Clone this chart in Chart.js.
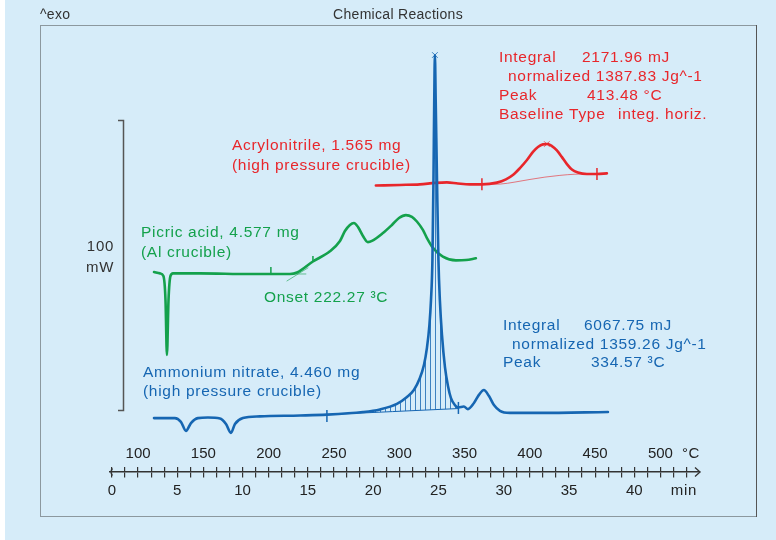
<!DOCTYPE html>
<html>
<head>
<meta charset="utf-8">
<script src="https://cdn.jsdelivr.net/npm/chart.js@4/dist/chart.umd.min.js"></script>
<style>
  html, body { margin: 0; padding: 0; background: #d6ecf9; }
  canvas { display: block; }
</style>
</head>
<body>
<canvas id="dscChart" width="776" height="540"></canvas>
<script>
// axis labels (time in min, furnace temperature in °C, 10 K/min from 80 °C)
var minLabels = [0, 5, 10, 15, 20, 25, 30, 35, 40];
var tempLabels = [100, 150, 200, 250, 300, 350, 400, 450, 500];

// Ammonium nitrate, 4.460 mg (time in min, heat flow in mW, curves offset)
var blueTime = [3.22, 4.82, 5.28, 5.67, 6.05, 6.58, 7.35, 8.27, 8.73, 9.11, 9.42, 10.03, 11.33, 14.40, 16.46, 19.22, 20.52, 21.82, 22.59, 23.12, 23.58, 23.89, 24.12, 24.31, 24.43, 24.54, 24.62, 24.68, 24.73, 24.79, 24.89, 25.00, 25.11, 25.27, 25.50, 25.73, 25.96, 26.26, 26.53, 26.95, 27.26, 27.72, 28.10, 28.48, 28.87, 29.25, 29.71, 30.47, 32.77, 37.98];
var blueHeat = [34.1, 34.1, 32.8, 29.7, 32.4, 34.1, 34.3, 34.0, 32.1, 29.0, 32.1, 34.1, 34.7, 35.0, 35.3, 36.2, 37.1, 39.0, 41.4, 43.8, 47.9, 52.4, 58.3, 66.2, 74.8, 88.6, 116.2, 143.8, 159.3, 143.8, 116.2, 88.6, 74.8, 62.8, 51.7, 45.2, 41.0, 38.6, 37.8, 38.1, 37.2, 39.3, 42.1, 43.8, 41.7, 38.6, 36.6, 35.9, 35.9, 36.2];
var blueBaseTime = [16.46, 26.53];
var blueBaseHeat = [35.3, 37.4];

// Picric acid, 4.577 mg
var greenTime = [3.22, 3.68, 3.94, 4.10, 4.21, 4.33, 4.48, 4.67, 6.74, 10.57, 13.63, 14.17, 15.39, 16.69, 17.46, 17.84, 18.22, 18.53, 18.84, 19.22, 19.60, 19.91, 20.75, 21.44, 21.98, 22.51, 22.97, 23.35, 23.81, 24.12, 24.58, 25.34, 26.34, 27.11, 27.87];
var greenHeat = [84.5, 84.0, 83.1, 74.8, 55.9, 74.8, 83.1, 84.0, 84.0, 83.8, 83.8, 84.3, 88.1, 91.6, 95.2, 98.6, 100.7, 101.4, 100.0, 96.9, 94.8, 95.2, 97.9, 100.7, 103.1, 104.1, 103.5, 101.9, 99.0, 96.2, 92.8, 89.8, 88.5, 88.6, 89.2];
var greenTanTime = [13.40, 15.01];
var greenTanHeat = [81.4, 85.9];
var greenFlatTime = [13.63, 14.85];
var greenFlatHeat = [83.8, 83.8];

// Acrylonitrile, 1.565 mg
var redTime = [20.21, 22.05, 23.58, 24.73, 25.65, 26.49, 27.41, 28.33, 29.48, 30.17, 30.70, 31.24, 31.78, 32.24, 32.62, 33.00, 33.35, 33.69, 34.07, 34.46, 34.84, 35.22, 35.68, 36.37, 37.14, 37.90];
var redHeat = [114.3, 114.5, 114.7, 115.2, 115.4, 115.0, 114.7, 114.7, 115.3, 116.4, 117.9, 120.3, 123.1, 125.9, 127.6, 128.5, 128.6, 127.9, 126.4, 124.1, 121.7, 119.8, 118.8, 118.3, 118.3, 118.5];
var redBaseTime = [28.33, 29.71, 30.86, 32.01, 33.15, 34.30, 35.45, 36.37];
var redBaseHeat = [114.7, 114.8, 115.5, 116.4, 117.2, 117.8, 118.2, 118.3];

// evaluation marks
var blueLimitTime = [16.46, 26.53];
var blueLimitHeat = [34.8, 37.6];
var greenMarkTime = [12.17, 15.39];
var greenMarkHeat = [85.2, 89.0];
var redLimitTime = [28.33, 37.14];
var redLimitHeat = [114.7, 118.3];
var peakTime = [24.73, 33.30];
var peakHeat = [159.3, 128.6];

// 100 mW scale bar
var scaleBarBase = 36.9;
var scaleBarSize = 100;

var BLUE = "#1666b2";
var GREEN = "#14a14c";
var RED = "#e8262b";
var FONT = '"Liberation Sans", Arial, sans-serif';

function pts(xs, ys) {
  return xs.map(function (x, i) {
    return { x: x, y: ys[i] };
  });
}

var canvas = document.getElementById("dscChart");
var ctx = canvas.getContext("2d");

// vertical hatching for the integrated area
var hatch = document.createElement("canvas");
hatch.width = 5;
hatch.height = 4;
var hctx = hatch.getContext("2d");
hctx.fillStyle = "rgba(22, 102, 178, 0.8)";
hctx.fillRect(0, 0, 1, 4);
var hatchPattern = ctx.createPattern(hatch, "repeat");

var blueArea = pts(blueTime, blueHeat).filter(function (p) {
  return p.x >= blueBaseTime[0] && p.x <= blueBaseTime[1];
});

function text(c, s, x, y, color, size, align, spacing) {
  c.save();
  c.font = size + "px " + FONT;
  c.letterSpacing = (spacing === undefined ? 0.7 : spacing) + "px";
  c.fillStyle = color;
  c.textAlign = align || "left";
  c.textBaseline = "middle";
  c.fillText(s, x, y);
  c.restore();
}

var decorations = {
  id: "decorations",
  beforeDraw: function (chart) {
    var c = chart.ctx;
    c.save();
    c.fillStyle = "#d6ecf9";
    c.fillRect(0, 0, chart.width, chart.height);
    c.fillStyle = "#ffffff";
    c.fillRect(0, 0, 5, chart.height);
    c.strokeStyle = "#8c989f";
    c.lineWidth = 1;
    c.strokeRect(40.5, 25.5, 716, 491);
    c.strokeStyle = "#555";
    c.beginPath();
    c.moveTo(756.5, 25);
    c.lineTo(756.5, 517);
    c.stroke();
    c.restore();
  },
  afterDraw: function (chart) {
    var c = chart.ctx;
    var x = chart.scales.x;
    var y = chart.scales.y;
    var ay = y.getPixelForValue(15.52);

    // axis ends: hook on the left, arrow on the right
    c.save();
    c.strokeStyle = "#333";
    c.lineWidth = 1.3;
    c.beginPath();
    c.arc(x.left + 6, ay, 5, Math.PI * 0.75, Math.PI * 1.25);
    c.stroke();
    c.beginPath();
    c.moveTo(x.right - 5, ay - 4.5);
    c.lineTo(x.right, ay);
    c.lineTo(x.right - 5, ay + 4.5);
    c.stroke();

    // 100 mW scale bar
    var yTop = Math.round(y.getPixelForValue(scaleBarBase + scaleBarSize)) + 0.5;
    var yBot = Math.round(y.getPixelForValue(scaleBarBase)) + 0.5;
    c.strokeStyle = "#555";
    c.lineWidth = 1.5;
    c.beginPath();
    c.moveTo(118, yTop);
    c.lineTo(123.5, yTop);
    c.lineTo(123.5, yBot);
    c.lineTo(118, yBot);
    c.stroke();
    c.restore();

    text(c, "100", 114, 247, "#333", 15, "right");
    text(c, "mW", 114, 268, "#333", 15, "right");
    text(c, "min", 684, 491, "#222", 15, "center");
    text(c, "°C", 691, 454, "#222", 15, "center");

    text(c, "^exo", 40, 15, "#333", 14, "left", 0.3);
    text(c, "Chemical Reactions", 398, 15, "#333", 14, "center", 0.3);

    text(c, "Integral", 499, 58, RED, 15.5);
    text(c, "2171.96 mJ", 582, 58, RED, 15.5);
    text(c, "normalized 1387.83 Jg^-1", 508, 77, RED, 15.5);
    text(c, "Peak", 499, 96, RED, 15.5);
    text(c, "413.48 °C", 587, 96, RED, 15.5);
    text(c, "Baseline Type", 499, 115, RED, 15.5);
    text(c, "integ. horiz.", 618, 115, RED, 15.5);
    text(c, "Acrylonitrile, 1.565 mg", 232, 146, RED, 15.5);
    text(c, "(high pressure crucible)", 232, 166, RED, 15.5);

    text(c, "Picric acid, 4.577 mg", 141, 233, GREEN, 15.5);
    text(c, "(Al crucible)", 141, 253, GREEN, 15.5);
    text(c, "Onset 222.27 ³C", 264, 298, GREEN, 15.5);

    text(c, "Ammonium nitrate, 4.460 mg", 143, 373, BLUE, 15.5);
    text(c, "(high pressure crucible)", 143, 392, BLUE, 15.5);
    text(c, "Integral", 503, 326, BLUE, 15.5);
    text(c, "6067.75 mJ", 584, 326, BLUE, 15.5);
    text(c, "normalized 1359.26 Jg^-1", 512, 345, BLUE, 15.5);
    text(c, "Peak", 503, 363, BLUE, 15.5);
    text(c, "334.57 ³C", 591, 363, BLUE, 15.5);
  }
};

var tickFont = { family: FONT, size: 15 };

var dscChart = new Chart(ctx, {
  type: "line",
  data: {
    datasets: [
      {
        label: "Ammonium nitrate",
        data: pts(blueTime, blueHeat),
        borderColor: BLUE,
        borderWidth: 2.6,
      },
      {
        label: "Integral area",
        data: blueArea,
        borderWidth: 0,
        borderColor: "rgba(0,0,0,0)",
        fill: { target: 2, above: hatchPattern, below: hatchPattern },
      },
      {
        label: "Baseline",
        data: pts(blueBaseTime, blueBaseHeat),
        borderColor: BLUE,
        borderWidth: 1,
      },
      {
        label: "Picric acid",
        data: pts(greenTime, greenHeat),
        borderColor: GREEN,
        borderWidth: 2.6,
      },
      {
        label: "Onset tangent",
        data: pts(greenTanTime, greenTanHeat),
        borderColor: "rgba(20, 161, 76, 0.6)",
        borderWidth: 1,
      },
      {
        label: "Onset baseline",
        data: pts(greenFlatTime, greenFlatHeat),
        borderColor: "rgba(20, 161, 76, 0.6)",
        borderWidth: 1,
      },
      {
        label: "Acrylonitrile",
        data: pts(redTime, redHeat),
        borderColor: RED,
        borderWidth: 2.6,
      },
      {
        label: "Acrylonitrile baseline",
        data: pts(redBaseTime, redBaseHeat),
        borderColor: "rgba(232, 38, 43, 0.6)",
        borderWidth: 1,
      },
      {
        label: "Blue limits",
        data: pts(blueLimitTime, blueLimitHeat),
        showLine: false,
        pointStyle: "line",
        rotation: 90,
        pointRadius: 6,
        pointBorderWidth: 1.5,
        pointBorderColor: BLUE,
      },
      {
        label: "Green marks",
        data: pts(greenMarkTime, greenMarkHeat),
        showLine: false,
        pointStyle: "line",
        rotation: 90,
        pointRadius: 3,
        pointBorderWidth: 1.5,
        pointBorderColor: GREEN,
      },
      {
        label: "Red limits",
        data: pts(redLimitTime, redLimitHeat),
        showLine: false,
        pointStyle: "line",
        rotation: 90,
        pointRadius: 6,
        pointBorderWidth: 1.5,
        pointBorderColor: RED,
      },
      {
        label: "Peaks",
        data: pts(peakTime, peakHeat),
        showLine: false,
        pointStyle: "crossRot",
        pointRadius: 4,
        pointBorderWidth: 1,
        pointBorderColor: ["rgba(22,102,178,0.8)", "rgba(232,38,43,0.7)"],
      },
    ],
  },
  options: {
    responsive: false,
    animation: false,
    devicePixelRatio: 1,
    layout: { padding: { left: 110, right: 76, top: 26, bottom: 23 } },
    plugins: {
      legend: { display: false },
      tooltip: { enabled: false },
    },
    elements: {
      point: { radius: 0 },
      line: {
        cubicInterpolationMode: "monotone",
        borderCapStyle: "round",
        borderJoinStyle: "round",
        fill: false,
      },
    },
    scales: {
      y: { type: "linear", display: false, min: 0, max: 169.31 },
      x: {
        type: "linear",
        min: -0.15,
        max: 45.03,
        position: { y: 15.52 },
        afterBuildTicks: function (axis) {
          var t = [];
          for (var i = 0; i <= 44; i++) t.push({ value: i });
          axis.ticks = t;
        },
        ticks: {
          autoSkip: false,
          maxRotation: 0,
          padding: 5,
          color: "#222",
          font: tickFont,
          callback: function (v) {
            return minLabels.indexOf(v) >= 0 ? String(v) : "";
          },
        },
        grid: { drawOnChartArea: false, tickLength: 5, color: "#333", lineWidth: 1.2 },
        border: { display: true, color: "#333", width: 1.5 },
      },
      xt: {
        type: "linear",
        min: 78.5,
        max: 530.3,
        position: { y: 15.52 },
        afterBuildTicks: function (axis) {
          var t = [];
          for (var i = 0; i <= 44; i++) t.push({ value: 80 + 10 * i });
          axis.ticks = t;
        },
        ticks: {
          autoSkip: false,
          maxRotation: 0,
          padding: -22,
          color: "#222",
          font: tickFont,
          callback: function (v) {
            return tempLabels.indexOf(v) >= 0 ? String(v) : "";
          },
        },
        grid: { drawOnChartArea: false, tickLength: -5, color: "#333", lineWidth: 1.2 },
        border: { display: false },
      },
    },
  },
  plugins: [decorations],
});
</script>
</body>
</html>
